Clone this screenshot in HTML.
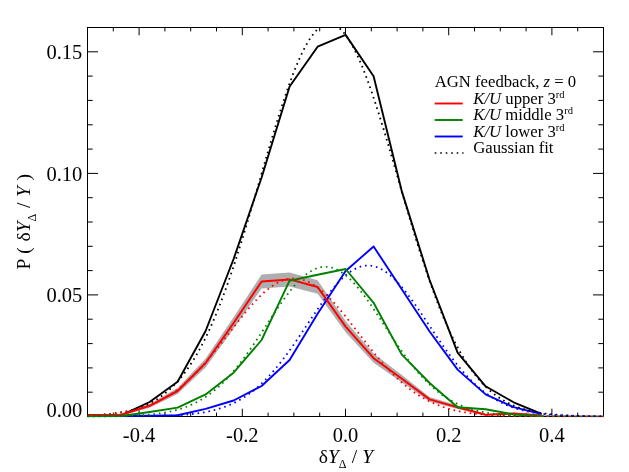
<!DOCTYPE html>
<html><head><meta charset="utf-8"><title>chart</title>
<style>html,body{margin:0;padding:0;background:#fff}body{width:629px;height:472px;overflow:hidden;font-family:"Liberation Serif",serif}svg{display:block;will-change:transform}</style>
</head><body>
<svg width="629" height="472" viewBox="0 0 629 472">
<rect width="629" height="472" fill="#fff"/>
<defs><clipPath id="c"><rect x="87.5" y="27.0" width="516.5" height="390.5"/></clipPath></defs>
<g stroke="#000" stroke-width="1" fill="none">
<rect x="87.5" y="27.5" width="516.0" height="389.0"/>
<path d="M113.3 416.5v-3.9M113.3 27.5v3.9"/>
<path d="M139.1 416.5v-7.8M139.1 27.5v7.8"/>
<path d="M164.9 416.5v-3.9M164.9 27.5v3.9"/>
<path d="M190.7 416.5v-3.9M190.7 27.5v3.9"/>
<path d="M216.5 416.5v-3.9M216.5 27.5v3.9"/>
<path d="M242.3 416.5v-7.8M242.3 27.5v7.8"/>
<path d="M268.1 416.5v-3.9M268.1 27.5v3.9"/>
<path d="M293.9 416.5v-3.9M293.9 27.5v3.9"/>
<path d="M319.7 416.5v-3.9M319.7 27.5v3.9"/>
<path d="M345.5 416.5v-7.8M345.5 27.5v7.8"/>
<path d="M371.3 416.5v-3.9M371.3 27.5v3.9"/>
<path d="M397.1 416.5v-3.9M397.1 27.5v3.9"/>
<path d="M422.9 416.5v-3.9M422.9 27.5v3.9"/>
<path d="M448.7 416.5v-7.8M448.7 27.5v7.8"/>
<path d="M474.5 416.5v-3.9M474.5 27.5v3.9"/>
<path d="M500.3 416.5v-3.9M500.3 27.5v3.9"/>
<path d="M526.1 416.5v-3.9M526.1 27.5v3.9"/>
<path d="M551.9 416.5v-7.8M551.9 27.5v7.8"/>
<path d="M577.7 416.5v-3.9M577.7 27.5v3.9"/>
<path d="M87.5 392.2h5.2M603.5 392.2h-5.2"/>
<path d="M87.5 367.9h5.2M603.5 367.9h-5.2"/>
<path d="M87.5 343.6h5.2M603.5 343.6h-5.2"/>
<path d="M87.5 319.2h5.2M603.5 319.2h-5.2"/>
<path d="M87.5 294.9h10.5M603.5 294.9h-10.5"/>
<path d="M87.5 270.6h5.2M603.5 270.6h-5.2"/>
<path d="M87.5 246.3h5.2M603.5 246.3h-5.2"/>
<path d="M87.5 222.0h5.2M603.5 222.0h-5.2"/>
<path d="M87.5 197.7h5.2M603.5 197.7h-5.2"/>
<path d="M87.5 173.4h10.5M603.5 173.4h-10.5"/>
<path d="M87.5 149.1h5.2M603.5 149.1h-5.2"/>
<path d="M87.5 124.8h5.2M603.5 124.8h-5.2"/>
<path d="M87.5 100.4h5.2M603.5 100.4h-5.2"/>
<path d="M87.5 76.1h5.2M603.5 76.1h-5.2"/>
<path d="M87.5 51.8h10.5M603.5 51.8h-10.5"/>
</g>
<g clip-path="url(#c)" fill="none" stroke-linejoin="round">
<polygon points="93.6,414.3 121.6,414.0 149.6,403.9 177.6,388.0 205.6,358.6 233.6,317.2 261.6,274.6 289.6,272.4 317.6,280.2 345.6,320.9 373.6,353.6 401.6,374.8 429.6,397.0 457.6,405.5 485.6,414.0 513.6,412.6 541.6,415.1 569.6,416.0 597.6,416.0 597.6,416.0 569.6,416.0 541.6,415.9 513.6,414.4 485.6,415.4 457.6,409.1 429.6,401.8 401.6,382.2 373.6,362.8 345.6,332.3 317.6,293.8 289.6,286.4 261.6,288.4 233.6,328.8 205.6,367.4 177.6,394.0 149.6,407.7 121.6,415.4 93.6,415.5" fill="#aeaeae" stroke="none"/>
<polyline points="87.5,416.0 93.6,416.0 121.6,415.2 149.6,402.0 177.6,381.7 205.6,331.0 233.6,259.0 261.6,177.5 289.6,86.5 317.6,46.7 345.6,34.9 373.6,76.3 401.6,190.6 429.6,280.0 457.6,352.6 485.6,386.3 513.6,402.3 541.6,413.9" stroke="#000" stroke-width="1.9"/>
<polyline points="121.6,416.0 149.6,415.6 177.6,415.3 205.6,408.9 233.6,400.5 261.6,386.0 289.6,360.0 317.6,313.8 345.6,271.0 373.6,246.5 401.6,289.0 429.6,331.5 457.6,369.6 485.6,394.4 513.6,407.2 541.6,414.1" stroke="#0000ff" stroke-width="1.9"/>
<polyline points="87.5,414.9 93.6,414.9 121.6,414.7 149.6,405.8 177.6,391.0 205.6,363.0 233.6,323.0 261.6,281.5 289.6,279.4 317.6,287.0 345.6,326.6 373.6,358.2 401.6,378.5 429.6,399.4 457.6,407.3 485.6,414.7 513.6,413.5 541.6,415.5" stroke="#ff0000" stroke-width="2"/>
<polyline points="87.5,416.2 93.6,416.2 121.6,416.0 149.6,412.0 177.6,407.6 205.6,394.4 233.6,372.7 261.6,340.0 289.6,280.7 317.6,274.7 345.6,269.0 373.6,302.8 401.6,354.4 429.6,383.0 457.6,407.3 485.6,409.3 513.6,414.5 541.6,416.0" stroke="#008000" stroke-width="1.9"/>
<polyline points="87.50,415.56 88.36,415.52 89.22,415.48 90.08,415.44 90.94,415.40 91.80,415.36 92.67,415.31 93.53,415.26 94.39,415.22 95.25,415.16 96.11,415.11 96.97,415.05 97.83,415.00 98.69,414.94 99.55,414.87 100.41,414.81 101.27,414.74 102.13,414.67 103.00,414.60 103.86,414.53 104.72,414.45 105.58,414.37 106.44,414.28 107.30,414.20 108.16,414.11 109.02,414.01 109.88,413.91 110.74,413.81 111.60,413.71 112.46,413.60 113.32,413.49 114.19,413.37 115.05,413.25 115.91,413.13 116.77,413.00 117.63,412.87 118.49,412.73 119.35,412.59 120.21,412.44 121.07,412.29 121.93,412.13 122.79,411.97 123.66,411.80 124.52,411.62 125.38,411.44 126.24,411.26 127.10,411.07 127.96,410.87 128.82,410.66 129.68,410.45 130.54,410.23 131.40,410.01 132.26,409.77 133.12,409.53 133.98,409.28 134.85,409.03 135.71,408.77 136.57,408.49 137.43,408.21 138.29,407.92 139.15,407.63 140.01,407.32 140.87,407.00 141.73,406.68 142.59,406.34 143.45,406.00 144.31,405.64 145.18,405.28 146.04,404.90 146.90,404.51 147.76,404.11 148.62,403.70 149.48,403.28 150.34,402.85 151.20,402.40 152.06,401.95 152.92,401.48 153.78,400.99 154.64,400.50 155.51,399.99 156.37,399.46 157.23,398.93 158.09,398.37 158.95,397.81 159.81,397.23 160.67,396.63 161.53,396.02 162.39,395.39 163.25,394.75 164.11,394.09 164.98,393.41 165.84,392.72 166.70,392.01 167.56,391.28 168.42,390.54 169.28,389.78 170.14,389.00 171.00,388.20 171.86,387.38 172.72,386.54 173.58,385.69 174.44,384.81 175.31,383.91 176.17,383.00 177.03,382.06 177.89,381.10 178.75,380.12 179.61,379.12 180.47,378.10 181.33,377.06 182.19,375.99 183.05,374.91 183.91,373.80 184.77,372.66 185.63,371.51 186.50,370.33 187.36,369.12 188.22,367.90 189.08,366.65 189.94,365.37 190.80,364.07 191.66,362.74 192.52,361.39 193.38,360.02 194.24,358.62 195.10,357.19 195.96,355.74 196.83,354.26 197.69,352.76 198.55,351.23 199.41,349.67 200.27,348.09 201.13,346.48 201.99,344.85 202.85,343.18 203.71,341.49 204.57,339.78 205.43,338.03 206.29,336.26 207.16,334.46 208.02,332.64 208.88,330.78 209.74,328.90 210.60,327.00 211.46,325.06 212.32,323.10 213.18,321.11 214.04,319.09 214.90,317.05 215.76,314.98 216.62,312.88 217.49,310.75 218.35,308.60 219.21,306.42 220.07,304.22 220.93,301.99 221.79,299.73 222.65,297.45 223.51,295.14 224.37,292.80 225.23,290.44 226.09,288.06 226.96,285.65 227.82,283.21 228.68,280.75 229.54,278.27 230.40,275.76 231.26,273.24 232.12,270.68 232.98,268.11 233.84,265.51 234.70,262.90 235.56,260.26 236.42,257.60 237.28,254.92 238.15,252.22 239.01,249.50 239.87,246.77 240.73,244.01 241.59,241.24 242.45,238.45 243.31,235.65 244.17,232.83 245.03,229.99 245.89,227.14 246.75,224.28 247.62,221.41 248.48,218.52 249.34,215.62 250.20,212.71 251.06,209.79 251.92,206.86 252.78,203.92 253.64,200.98 254.50,198.03 255.36,195.07 256.22,192.11 257.08,189.14 257.95,186.17 258.81,183.20 259.67,180.22 260.53,177.25 261.39,174.28 262.25,171.30 263.11,168.33 263.97,165.36 264.83,162.40 265.69,159.44 266.55,156.49 267.41,153.55 268.27,150.61 269.14,147.68 270.00,144.76 270.86,141.86 271.72,138.96 272.58,136.08 273.44,133.22 274.30,130.37 275.16,127.53 276.02,124.71 276.88,121.91 277.74,119.14 278.61,116.38 279.47,113.64 280.33,110.92 281.19,108.23 282.05,105.57 282.91,102.93 283.77,100.32 284.63,97.73 285.49,95.17 286.35,92.65 287.21,90.15 288.07,87.69 288.94,85.26 289.80,82.87 290.66,80.51 291.52,78.18 292.38,75.89 293.24,73.64 294.10,71.43 294.96,69.26 295.82,67.13 296.68,65.05 297.54,63.00 298.40,61.00 299.26,59.04 300.13,57.13 300.99,55.27 301.85,53.45 302.71,51.68 303.57,49.95 304.43,48.28 305.29,46.66 306.15,45.09 307.01,43.57 307.87,42.10 308.73,40.68 309.60,39.32 310.46,38.01 311.32,36.76 312.18,35.56 313.04,34.42 313.90,33.33 314.76,32.31 315.62,31.33 316.48,30.42 317.34,29.57 318.20,28.77 319.06,28.03 319.93,27.35 320.79,26.73 321.65,26.17 322.51,25.68 323.37,25.24 324.23,24.86 325.09,24.54 325.95,24.29 326.81,24.09 327.67,23.96 328.53,23.89 329.39,23.88 330.25,23.93 331.12,24.04 331.98,24.21 332.84,24.44 333.70,24.74 334.56,25.10 335.42,25.51 336.28,25.99 337.14,26.53 338.00,27.12 338.86,27.78 339.72,28.50 340.59,29.27 341.45,30.11 342.31,31.00 343.17,31.95 344.03,32.96 344.89,34.02 345.75,35.14 346.61,36.32 347.47,37.55 348.33,38.84 349.19,40.19 350.05,41.58 350.92,43.03 351.78,44.53 352.64,46.09 353.50,47.69 354.36,49.35 355.22,51.05 356.08,52.80 356.94,54.61 357.80,56.45 358.66,58.35 359.52,60.29 360.38,62.28 361.25,64.30 362.11,66.38 362.97,68.49 363.83,70.65 364.69,72.84 365.55,75.08 366.41,77.35 367.27,79.66 368.13,82.01 368.99,84.39 369.85,86.81 370.71,89.26 371.58,91.75 372.44,94.26 373.30,96.81 374.16,99.38 375.02,101.98 375.88,104.62 376.74,107.27 377.60,109.95 378.46,112.66 379.32,115.39 380.18,118.14 381.04,120.91 381.90,123.70 382.77,126.51 383.63,129.34 384.49,132.19 385.35,135.05 386.21,137.93 387.07,140.81 387.93,143.72 388.79,146.63 389.65,149.55 390.51,152.49 391.37,155.43 392.23,158.38 393.10,161.34 393.96,164.30 394.82,167.26 395.68,170.23 396.54,173.21 397.40,176.18 398.26,179.15 399.12,182.13 399.98,185.10 400.84,188.07 401.70,191.04 402.56,194.00 403.43,196.96 404.29,199.92 405.15,202.86 406.01,205.80 406.87,208.74 407.73,211.66 408.59,214.57 409.45,217.48 410.31,220.37 411.17,223.25 412.03,226.12 412.89,228.97 413.76,231.81 414.62,234.64 415.48,237.45 416.34,240.24 417.20,243.02 418.06,245.78 418.92,248.52 419.78,251.25 420.64,253.95 421.50,256.64 422.36,259.30 423.23,261.95 424.09,264.57 424.95,267.18 425.81,269.76 426.67,272.32 427.53,274.86 428.39,277.37 429.25,279.86 430.11,282.33 430.97,284.77 431.83,287.19 432.69,289.59 433.56,291.95 434.42,294.30 435.28,296.62 436.14,298.91 437.00,301.18 437.86,303.42 438.72,305.63 439.58,307.82 440.44,309.98 441.30,312.12 442.16,314.22 443.02,316.31 443.88,318.36 444.75,320.39 445.61,322.39 446.47,324.36 447.33,326.30 448.19,328.22 449.05,330.11 449.91,331.97 450.77,333.81 451.63,335.62 452.49,337.40 453.35,339.15 454.21,340.88 455.08,342.58 455.94,344.25 456.80,345.90 457.66,347.52 458.52,349.11 459.38,350.67 460.24,352.21 461.10,353.73 461.96,355.21 462.82,356.67 463.68,358.11 464.55,359.52 465.41,360.90 466.27,362.26 467.13,363.60 467.99,364.90 468.85,366.19 469.71,367.45 470.57,368.68 471.43,369.90 472.29,371.08 473.15,372.25 474.01,373.39 474.88,374.51 475.74,375.61 476.60,376.68 477.46,377.73 478.32,378.76 479.18,379.77 480.04,380.75 480.90,381.72 481.76,382.66 482.62,383.59 483.48,384.49 484.34,385.37 485.20,386.24 486.07,387.08 486.93,387.90 487.79,388.71 488.65,389.50 489.51,390.27 490.37,391.02 491.23,391.75 492.09,392.47 492.95,393.17 493.81,393.85 494.67,394.51 495.54,395.16 496.40,395.80 497.26,396.41 498.12,397.01 498.98,397.60 499.84,398.17 500.70,398.73 501.56,399.27 502.42,399.80 503.28,400.32 504.14,400.82 505.00,401.30 505.87,401.78 506.73,402.24 507.59,402.69 508.45,403.13 509.31,403.55 510.17,403.97 511.03,404.37 511.89,404.76 512.75,405.14 513.61,405.51 514.47,405.87 515.33,406.22 516.19,406.56 517.06,406.89 517.92,407.21 518.78,407.52 519.64,407.82 520.50,408.11 521.36,408.39 522.22,408.67 523.08,408.93 523.94,409.19 524.80,409.44 525.66,409.69 526.52,409.92 527.39,410.15 528.25,410.37 529.11,410.59 529.97,410.79 530.83,410.99 531.69,411.19 532.55,411.38 533.41,411.56 534.27,411.74 535.13,411.91 535.99,412.07 536.86,412.23 537.72,412.39 538.58,412.54 539.44,412.68 540.30,412.82 541.16,412.95 542.02,413.08 542.88,413.21 543.74,413.33 544.60,413.45 545.46,413.56 546.32,413.67 547.18,413.78 548.05,413.88 548.91,413.98 549.77,414.07 550.63,414.16 551.49,414.25 552.35,414.34 553.21,414.42 554.07,414.50 554.93,414.57 555.79,414.65 556.65,414.72 557.52,414.79 558.38,414.85 559.24,414.92 560.10,414.98 560.96,415.03 561.82,415.09 562.68,415.14 563.54,415.20 564.40,415.25 565.26,415.30 566.12,415.34 566.98,415.39 567.85,415.43 568.71,415.47 569.57,415.51 570.43,415.55 571.29,415.58 572.15,415.62 573.01,415.65 573.87,415.69 574.73,415.72 575.59,415.75 576.45,415.78 577.31,415.80 578.17,415.83 579.04,415.85 579.90,415.88 580.76,415.90 581.62,415.92 582.48,415.95 583.34,415.97 584.20,415.99 585.06,416.00 585.92,416.02 586.78,416.04 587.64,416.06 588.50,416.07 589.37,416.09 590.23,416.10 591.09,416.12 591.95,416.13 592.81,416.14 593.67,416.15 594.53,416.16 595.39,416.18 596.25,416.19 597.11,416.20 597.97,416.21 598.84,416.22 599.70,416.22 600.56,416.23 601.42,416.24 602.28,416.25 603.14,416.26 604.00,416.26" stroke="#000" stroke-dasharray="1.60 3.8974" stroke-width="1.8"/>
<polyline points="87.50,416.40 88.36,416.40 89.22,416.40 90.08,416.40 90.94,416.40 91.80,416.39 92.67,416.39 93.53,416.39 94.39,416.39 95.25,416.39 96.11,416.39 96.97,416.39 97.83,416.39 98.69,416.39 99.55,416.39 100.41,416.39 101.27,416.39 102.13,416.39 103.00,416.39 103.86,416.39 104.72,416.39 105.58,416.39 106.44,416.38 107.30,416.38 108.16,416.38 109.02,416.38 109.88,416.38 110.74,416.38 111.60,416.38 112.46,416.38 113.32,416.38 114.19,416.37 115.05,416.37 115.91,416.37 116.77,416.37 117.63,416.37 118.49,416.37 119.35,416.36 120.21,416.36 121.07,416.36 121.93,416.36 122.79,416.35 123.66,416.35 124.52,416.35 125.38,416.35 126.24,416.34 127.10,416.34 127.96,416.34 128.82,416.33 129.68,416.33 130.54,416.32 131.40,416.32 132.26,416.31 133.12,416.31 133.98,416.30 134.85,416.30 135.71,416.29 136.57,416.29 137.43,416.28 138.29,416.28 139.15,416.27 140.01,416.26 140.87,416.25 141.73,416.25 142.59,416.24 143.45,416.23 144.31,416.22 145.18,416.21 146.04,416.20 146.90,416.19 147.76,416.18 148.62,416.17 149.48,416.16 150.34,416.14 151.20,416.13 152.06,416.12 152.92,416.10 153.78,416.09 154.64,416.07 155.51,416.05 156.37,416.04 157.23,416.02 158.09,416.00 158.95,415.98 159.81,415.96 160.67,415.94 161.53,415.91 162.39,415.89 163.25,415.86 164.11,415.84 164.98,415.81 165.84,415.78 166.70,415.75 167.56,415.72 168.42,415.69 169.28,415.66 170.14,415.62 171.00,415.59 171.86,415.55 172.72,415.51 173.58,415.47 174.44,415.42 175.31,415.38 176.17,415.33 177.03,415.28 177.89,415.23 178.75,415.18 179.61,415.13 180.47,415.07 181.33,415.01 182.19,414.95 183.05,414.89 183.91,414.82 184.77,414.75 185.63,414.68 186.50,414.61 187.36,414.53 188.22,414.45 189.08,414.37 189.94,414.28 190.80,414.19 191.66,414.10 192.52,414.01 193.38,413.91 194.24,413.80 195.10,413.70 195.96,413.59 196.83,413.47 197.69,413.35 198.55,413.23 199.41,413.11 200.27,412.98 201.13,412.84 201.99,412.70 202.85,412.55 203.71,412.41 204.57,412.25 205.43,412.09 206.29,411.93 207.16,411.76 208.02,411.58 208.88,411.40 209.74,411.21 210.60,411.02 211.46,410.82 212.32,410.61 213.18,410.40 214.04,410.18 214.90,409.96 215.76,409.73 216.62,409.49 217.49,409.24 218.35,408.99 219.21,408.73 220.07,408.46 220.93,408.18 221.79,407.90 222.65,407.61 223.51,407.31 224.37,407.00 225.23,406.68 226.09,406.35 226.96,406.02 227.82,405.68 228.68,405.32 229.54,404.96 230.40,404.59 231.26,404.21 232.12,403.82 232.98,403.41 233.84,403.00 234.70,402.58 235.56,402.15 236.42,401.71 237.28,401.25 238.15,400.79 239.01,400.32 239.87,399.83 240.73,399.33 241.59,398.82 242.45,398.30 243.31,397.77 244.17,397.23 245.03,396.67 245.89,396.10 246.75,395.52 247.62,394.93 248.48,394.32 249.34,393.71 250.20,393.08 251.06,392.43 251.92,391.78 252.78,391.11 253.64,390.43 254.50,389.73 255.36,389.02 256.22,388.30 257.08,387.57 257.95,386.82 258.81,386.06 259.67,385.29 260.53,384.50 261.39,383.70 262.25,382.88 263.11,382.06 263.97,381.21 264.83,380.36 265.69,379.49 266.55,378.61 267.41,377.72 268.27,376.81 269.14,375.89 270.00,374.95 270.86,374.00 271.72,373.04 272.58,372.07 273.44,371.08 274.30,370.08 275.16,369.07 276.02,368.05 276.88,367.01 277.74,365.96 278.61,364.90 279.47,363.83 280.33,362.75 281.19,361.65 282.05,360.55 282.91,359.43 283.77,358.30 284.63,357.16 285.49,356.01 286.35,354.85 287.21,353.69 288.07,352.51 288.94,351.32 289.80,350.12 290.66,348.92 291.52,347.71 292.38,346.48 293.24,345.26 294.10,344.02 294.96,342.78 295.82,341.53 296.68,340.28 297.54,339.02 298.40,337.75 299.26,336.48 300.13,335.21 300.99,333.93 301.85,332.65 302.71,331.36 303.57,330.07 304.43,328.78 305.29,327.49 306.15,326.20 307.01,324.91 307.87,323.62 308.73,322.33 309.60,321.04 310.46,319.75 311.32,318.46 312.18,317.18 313.04,315.89 313.90,314.62 314.76,313.34 315.62,312.08 316.48,310.81 317.34,309.56 318.20,308.31 319.06,307.07 319.93,305.83 320.79,304.60 321.65,303.39 322.51,302.18 323.37,300.98 324.23,299.79 325.09,298.62 325.95,297.45 326.81,296.30 327.67,295.16 328.53,294.04 329.39,292.93 330.25,291.83 331.12,290.75 331.98,289.68 332.84,288.64 333.70,287.61 334.56,286.59 335.42,285.60 336.28,284.62 337.14,283.66 338.00,282.72 338.86,281.81 339.72,280.91 340.59,280.03 341.45,279.18 342.31,278.35 343.17,277.54 344.03,276.75 344.89,275.99 345.75,275.25 346.61,274.53 347.47,273.85 348.33,273.18 349.19,272.54 350.05,271.93 350.92,271.34 351.78,270.78 352.64,270.25 353.50,269.75 354.36,269.27 355.22,268.82 356.08,268.40 356.94,268.00 357.80,267.64 358.66,267.30 359.52,267.00 360.38,266.72 361.25,266.47 362.11,266.25 362.97,266.06 363.83,265.91 364.69,265.78 365.55,265.68 366.41,265.61 367.27,265.57 368.13,265.56 368.99,265.58 369.85,265.63 370.71,265.71 371.58,265.82 372.44,265.97 373.30,266.14 374.16,266.34 375.02,266.57 375.88,266.83 376.74,267.12 377.60,267.43 378.46,267.78 379.32,268.16 380.18,268.56 381.04,269.00 381.90,269.46 382.77,269.95 383.63,270.46 384.49,271.00 385.35,271.58 386.21,272.17 387.07,272.80 387.93,273.44 388.79,274.12 389.65,274.82 390.51,275.54 391.37,276.29 392.23,277.06 393.10,277.86 393.96,278.68 394.82,279.52 395.68,280.38 396.54,281.26 397.40,282.17 398.26,283.10 399.12,284.04 399.98,285.01 400.84,285.99 401.70,286.99 402.56,288.02 403.43,289.05 404.29,290.11 405.15,291.18 406.01,292.27 406.87,293.37 407.73,294.49 408.59,295.62 409.45,296.76 410.31,297.92 411.17,299.09 412.03,300.27 412.89,301.46 413.76,302.66 414.62,303.87 415.48,305.09 416.34,306.32 417.20,307.56 418.06,308.81 418.92,310.06 419.78,311.32 420.64,312.58 421.50,313.85 422.36,315.13 423.23,316.41 424.09,317.69 424.95,318.97 425.81,320.26 426.67,321.55 427.53,322.84 428.39,324.14 429.25,325.43 430.11,326.72 430.97,328.01 431.83,329.30 432.69,330.59 433.56,331.88 434.42,333.16 435.28,334.44 436.14,335.72 437.00,336.99 437.86,338.26 438.72,339.52 439.58,340.78 440.44,342.03 441.30,343.28 442.16,344.52 443.02,345.75 443.88,346.97 444.75,348.19 445.61,349.40 446.47,350.60 447.33,351.80 448.19,352.98 449.05,354.15 449.91,355.32 450.77,356.47 451.63,357.62 452.49,358.75 453.35,359.88 454.21,360.99 455.08,362.09 455.94,363.18 456.80,364.26 457.66,365.33 458.52,366.39 459.38,367.43 460.24,368.46 461.10,369.48 461.96,370.49 462.82,371.48 463.68,372.46 464.55,373.43 465.41,374.38 466.27,375.33 467.13,376.26 467.99,377.17 468.85,378.07 469.71,378.96 470.57,379.84 471.43,380.70 472.29,381.55 473.15,382.39 474.01,383.21 474.88,384.02 475.74,384.82 476.60,385.60 477.46,386.37 478.32,387.12 479.18,387.86 480.04,388.59 480.90,389.31 481.76,390.01 482.62,390.70 483.48,391.38 484.34,392.04 485.20,392.69 486.07,393.33 486.93,393.95 487.79,394.57 488.65,395.17 489.51,395.75 490.37,396.33 491.23,396.89 492.09,397.44 492.95,397.98 493.81,398.51 494.67,399.03 495.54,399.53 496.40,400.02 497.26,400.51 498.12,400.98 498.98,401.44 499.84,401.89 500.70,402.32 501.56,402.75 502.42,403.17 503.28,403.58 504.14,403.97 505.00,404.36 505.87,404.74 506.73,405.11 507.59,405.46 508.45,405.81 509.31,406.15 510.17,406.49 511.03,406.81 511.89,407.12 512.75,407.43 513.61,407.72 514.47,408.01 515.33,408.29 516.19,408.57 517.06,408.83 517.92,409.09 518.78,409.34 519.64,409.58 520.50,409.82 521.36,410.05 522.22,410.27 523.08,410.49 523.94,410.70 524.80,410.90 525.66,411.10 526.52,411.29 527.39,411.47 528.25,411.65 529.11,411.82 529.97,411.99 530.83,412.16 531.69,412.31 532.55,412.47 533.41,412.61 534.27,412.76 535.13,412.89 535.99,413.03 536.86,413.16 537.72,413.28 538.58,413.40 539.44,413.52 540.30,413.63 541.16,413.74 542.02,413.85 542.88,413.95 543.74,414.04 544.60,414.14 545.46,414.23 546.32,414.32 547.18,414.40 548.05,414.48 548.91,414.56 549.77,414.64 550.63,414.71 551.49,414.78 552.35,414.85 553.21,414.91 554.07,414.98 554.93,415.04 555.79,415.09 556.65,415.15 557.52,415.20 558.38,415.25 559.24,415.30 560.10,415.35 560.96,415.40 561.82,415.44 562.68,415.48 563.54,415.52 564.40,415.56 565.26,415.60 566.12,415.64 566.98,415.67 567.85,415.70 568.71,415.74 569.57,415.77 570.43,415.79 571.29,415.82 572.15,415.85 573.01,415.87 573.87,415.90 574.73,415.92 575.59,415.94 576.45,415.97 577.31,415.99 578.17,416.01 579.04,416.03 579.90,416.04 580.76,416.06 581.62,416.08 582.48,416.09 583.34,416.11 584.20,416.12 585.06,416.14 585.92,416.15 586.78,416.16 587.64,416.17 588.50,416.18 589.37,416.19 590.23,416.20 591.09,416.21 591.95,416.22 592.81,416.23 593.67,416.24 594.53,416.25 595.39,416.26 596.25,416.26 597.11,416.27 597.97,416.28 598.84,416.28 599.70,416.29 600.56,416.30 601.42,416.30 602.28,416.31 603.14,416.31 604.00,416.32" stroke="#0000ff" stroke-dasharray="1.60 3.9065" stroke-width="1.8"/>
<polyline points="87.50,415.59 88.36,415.55 89.22,415.51 90.08,415.47 90.94,415.43 91.80,415.39 92.67,415.35 93.53,415.31 94.39,415.26 95.25,415.21 96.11,415.16 96.97,415.11 97.83,415.06 98.69,415.00 99.55,414.94 100.41,414.88 101.27,414.82 102.13,414.76 103.00,414.69 103.86,414.62 104.72,414.55 105.58,414.47 106.44,414.40 107.30,414.32 108.16,414.24 109.02,414.15 109.88,414.06 110.74,413.97 111.60,413.88 112.46,413.78 113.32,413.68 114.19,413.58 115.05,413.47 115.91,413.36 116.77,413.25 117.63,413.13 118.49,413.01 119.35,412.88 120.21,412.76 121.07,412.62 121.93,412.48 122.79,412.34 123.66,412.20 124.52,412.05 125.38,411.89 126.24,411.73 127.10,411.57 127.96,411.40 128.82,411.22 129.68,411.04 130.54,410.86 131.40,410.66 132.26,410.47 133.12,410.27 133.98,410.06 134.85,409.85 135.71,409.63 136.57,409.40 137.43,409.17 138.29,408.93 139.15,408.69 140.01,408.44 140.87,408.18 141.73,407.92 142.59,407.64 143.45,407.37 144.31,407.08 145.18,406.79 146.04,406.49 146.90,406.18 147.76,405.86 148.62,405.54 149.48,405.21 150.34,404.87 151.20,404.52 152.06,404.17 152.92,403.80 153.78,403.43 154.64,403.05 155.51,402.66 156.37,402.26 157.23,401.85 158.09,401.43 158.95,401.01 159.81,400.57 160.67,400.13 161.53,399.67 162.39,399.21 163.25,398.74 164.11,398.25 164.98,397.76 165.84,397.25 166.70,396.74 167.56,396.22 168.42,395.68 169.28,395.14 170.14,394.58 171.00,394.02 171.86,393.44 172.72,392.86 173.58,392.26 174.44,391.65 175.31,391.03 176.17,390.40 177.03,389.76 177.89,389.11 178.75,388.45 179.61,387.78 180.47,387.09 181.33,386.40 182.19,385.69 183.05,384.98 183.91,384.25 184.77,383.51 185.63,382.76 186.50,382.00 187.36,381.23 188.22,380.44 189.08,379.65 189.94,378.85 190.80,378.03 191.66,377.20 192.52,376.37 193.38,375.52 194.24,374.66 195.10,373.80 195.96,372.92 196.83,372.03 197.69,371.13 198.55,370.22 199.41,369.31 200.27,368.38 201.13,367.44 201.99,366.49 202.85,365.54 203.71,364.57 204.57,363.60 205.43,362.62 206.29,361.63 207.16,360.63 208.02,359.62 208.88,358.60 209.74,357.58 210.60,356.55 211.46,355.51 212.32,354.47 213.18,353.42 214.04,352.36 214.90,351.30 215.76,350.23 216.62,349.15 217.49,348.07 218.35,346.99 219.21,345.90 220.07,344.80 220.93,343.71 221.79,342.61 222.65,341.50 223.51,340.39 224.37,339.28 225.23,338.17 226.09,337.05 226.96,335.94 227.82,334.82 228.68,333.70 229.54,332.58 230.40,331.47 231.26,330.35 232.12,329.23 232.98,328.12 233.84,327.00 234.70,325.89 235.56,324.78 236.42,323.67 237.28,322.57 238.15,321.47 239.01,320.38 239.87,319.29 240.73,318.20 241.59,317.12 242.45,316.05 243.31,314.98 244.17,313.92 245.03,312.87 245.89,311.82 246.75,310.79 247.62,309.76 248.48,308.74 249.34,307.73 250.20,306.74 251.06,305.75 251.92,304.77 252.78,303.81 253.64,302.85 254.50,301.91 255.36,300.98 256.22,300.07 257.08,299.17 257.95,298.28 258.81,297.41 259.67,296.55 260.53,295.71 261.39,294.88 262.25,294.07 263.11,293.28 263.97,292.50 264.83,291.74 265.69,291.00 266.55,290.28 267.41,289.57 268.27,288.89 269.14,288.22 270.00,287.57 270.86,286.94 271.72,286.34 272.58,285.75 273.44,285.18 274.30,284.64 275.16,284.12 276.02,283.61 276.88,283.13 277.74,282.68 278.61,282.24 279.47,281.83 280.33,281.44 281.19,281.07 282.05,280.73 282.91,280.41 283.77,280.11 284.63,279.84 285.49,279.59 286.35,279.36 287.21,279.16 288.07,278.98 288.94,278.83 289.80,278.70 290.66,278.60 291.52,278.52 292.38,278.47 293.24,278.44 294.10,278.43 294.96,278.45 295.82,278.50 296.68,278.57 297.54,278.66 298.40,278.78 299.26,278.92 300.13,279.09 300.99,279.28 301.85,279.49 302.71,279.73 303.57,280.00 304.43,280.28 305.29,280.60 306.15,280.93 307.01,281.29 307.87,281.67 308.73,282.07 309.60,282.50 310.46,282.95 311.32,283.42 312.18,283.91 313.04,284.43 313.90,284.96 314.76,285.52 315.62,286.10 316.48,286.70 317.34,287.32 318.20,287.96 319.06,288.62 319.93,289.29 320.79,289.99 321.65,290.71 322.51,291.44 323.37,292.19 324.23,292.96 325.09,293.75 325.95,294.55 326.81,295.37 327.67,296.21 328.53,297.06 329.39,297.93 330.25,298.81 331.12,299.71 331.98,300.62 332.84,301.54 333.70,302.47 334.56,303.42 335.42,304.38 336.28,305.36 337.14,306.34 338.00,307.33 338.86,308.34 339.72,309.35 340.59,310.38 341.45,311.41 342.31,312.45 343.17,313.50 344.03,314.56 344.89,315.62 345.75,316.69 346.61,317.77 347.47,318.85 348.33,319.94 349.19,321.03 350.05,322.13 350.92,323.23 351.78,324.34 352.64,325.45 353.50,326.56 354.36,327.67 355.22,328.78 356.08,329.90 356.94,331.02 357.80,332.14 358.66,333.26 359.52,334.37 360.38,335.49 361.25,336.61 362.11,337.72 362.97,338.84 363.83,339.95 364.69,341.06 365.55,342.16 366.41,343.27 367.27,344.37 368.13,345.46 368.99,346.55 369.85,347.64 370.71,348.72 371.58,349.80 372.44,350.87 373.30,351.94 374.16,353.00 375.02,354.05 375.88,355.10 376.74,356.14 377.60,357.17 378.46,358.20 379.32,359.21 380.18,360.22 381.04,361.23 381.90,362.22 382.77,363.21 383.63,364.18 384.49,365.15 385.35,366.11 386.21,367.06 387.07,368.00 387.93,368.94 388.79,369.86 389.65,370.77 390.51,371.67 391.37,372.56 392.23,373.45 393.10,374.32 393.96,375.18 394.82,376.03 395.68,376.87 396.54,377.70 397.40,378.52 398.26,379.33 399.12,380.13 399.98,380.91 400.84,381.69 401.70,382.46 402.56,383.21 403.43,383.95 404.29,384.69 405.15,385.41 406.01,386.12 406.87,386.82 407.73,387.50 408.59,388.18 409.45,388.85 410.31,389.50 411.17,390.15 412.03,390.78 412.89,391.41 413.76,392.02 414.62,392.62 415.48,393.21 416.34,393.79 417.20,394.36 418.06,394.92 418.92,395.47 419.78,396.00 420.64,396.53 421.50,397.05 422.36,397.56 423.23,398.06 424.09,398.54 424.95,399.02 425.81,399.49 426.67,399.95 427.53,400.40 428.39,400.83 429.25,401.26 430.11,401.69 430.97,402.10 431.83,402.50 432.69,402.89 433.56,403.28 434.42,403.65 435.28,404.02 436.14,404.38 437.00,404.73 437.86,405.07 438.72,405.41 439.58,405.74 440.44,406.05 441.30,406.36 442.16,406.67 443.02,406.96 443.88,407.25 444.75,407.53 445.61,407.81 446.47,408.07 447.33,408.33 448.19,408.59 449.05,408.84 449.91,409.08 450.77,409.31 451.63,409.54 452.49,409.76 453.35,409.97 454.21,410.18 455.08,410.39 455.94,410.59 456.80,410.78 457.66,410.97 458.52,411.15 459.38,411.33 460.24,411.50 461.10,411.66 461.96,411.83 462.82,411.98 463.68,412.14 464.55,412.28 465.41,412.43 466.27,412.57 467.13,412.70 467.99,412.83 468.85,412.96 469.71,413.08 470.57,413.20 471.43,413.32 472.29,413.43 473.15,413.54 474.01,413.64 474.88,413.74 475.74,413.84 476.60,413.94 477.46,414.03 478.32,414.12 479.18,414.20 480.04,414.29 480.90,414.37 481.76,414.44 482.62,414.52 483.48,414.59 484.34,414.66 485.20,414.73 486.07,414.79 486.93,414.86 487.79,414.92 488.65,414.98 489.51,415.03 490.37,415.09 491.23,415.14 492.09,415.19 492.95,415.24 493.81,415.29 494.67,415.33 495.54,415.38 496.40,415.42 497.26,415.46 498.12,415.50 498.98,415.53 499.84,415.57 500.70,415.61 501.56,415.64 502.42,415.67 503.28,415.70 504.14,415.73 505.00,415.76 505.87,415.79 506.73,415.81 507.59,415.84 508.45,415.86 509.31,415.89 510.17,415.91 511.03,415.93 511.89,415.95 512.75,415.97 513.61,415.99 514.47,416.01 515.33,416.03 516.19,416.04 517.06,416.06 517.92,416.08 518.78,416.09 519.64,416.10 520.50,416.12 521.36,416.13 522.22,416.14 523.08,416.16 523.94,416.17 524.80,416.18 525.66,416.19 526.52,416.20 527.39,416.21 528.25,416.22 529.11,416.23 529.97,416.23 530.83,416.24 531.69,416.25 532.55,416.26 533.41,416.26 534.27,416.27 535.13,416.28 535.99,416.28 536.86,416.29 537.72,416.29 538.58,416.30 539.44,416.30 540.30,416.31 541.16,416.31 542.02,416.32 542.88,416.32 543.74,416.33 544.60,416.33 545.46,416.33 546.32,416.34 547.18,416.34 548.05,416.34 548.91,416.35 549.77,416.35 550.63,416.35 551.49,416.35 552.35,416.36 553.21,416.36 554.07,416.36 554.93,416.36 555.79,416.36 556.65,416.37 557.52,416.37 558.38,416.37 559.24,416.37 560.10,416.37 560.96,416.37 561.82,416.38 562.68,416.38 563.54,416.38 564.40,416.38 565.26,416.38 566.12,416.38 566.98,416.38 567.85,416.38 568.71,416.38 569.57,416.39 570.43,416.39 571.29,416.39 572.15,416.39 573.01,416.39 573.87,416.39 574.73,416.39 575.59,416.39 576.45,416.39 577.31,416.39 578.17,416.39 579.04,416.39 579.90,416.39 580.76,416.39 581.62,416.39 582.48,416.39 583.34,416.39 584.20,416.39 585.06,416.39 585.92,416.40 586.78,416.40 587.64,416.40 588.50,416.40 589.37,416.40 590.23,416.40 591.09,416.40 591.95,416.40 592.81,416.40 593.67,416.40 594.53,416.40 595.39,416.40 596.25,416.40 597.11,416.40 597.97,416.40 598.84,416.40 599.70,416.40 600.56,416.40 601.42,416.40 602.28,416.40 603.14,416.40 604.00,416.40" stroke="#ff0000" stroke-dasharray="1.60 3.8850" stroke-width="1.8"/>
<polyline points="87.50,416.35 88.36,416.35 89.22,416.35 90.08,416.34 90.94,416.34 91.80,416.34 92.67,416.33 93.53,416.33 94.39,416.32 95.25,416.32 96.11,416.32 96.97,416.31 97.83,416.30 98.69,416.30 99.55,416.29 100.41,416.29 101.27,416.28 102.13,416.27 103.00,416.27 103.86,416.26 104.72,416.25 105.58,416.24 106.44,416.24 107.30,416.23 108.16,416.22 109.02,416.21 109.88,416.20 110.74,416.19 111.60,416.17 112.46,416.16 113.32,416.15 114.19,416.14 115.05,416.12 115.91,416.11 116.77,416.09 117.63,416.08 118.49,416.06 119.35,416.04 120.21,416.02 121.07,416.00 121.93,415.98 122.79,415.96 123.66,415.94 124.52,415.92 125.38,415.89 126.24,415.87 127.10,415.84 127.96,415.81 128.82,415.78 129.68,415.75 130.54,415.72 131.40,415.69 132.26,415.65 133.12,415.62 133.98,415.58 134.85,415.54 135.71,415.50 136.57,415.46 137.43,415.41 138.29,415.37 139.15,415.32 140.01,415.27 140.87,415.22 141.73,415.16 142.59,415.11 143.45,415.05 144.31,414.98 145.18,414.92 146.04,414.85 146.90,414.78 147.76,414.71 148.62,414.64 149.48,414.56 150.34,414.48 151.20,414.40 152.06,414.31 152.92,414.22 153.78,414.12 154.64,414.03 155.51,413.93 156.37,413.82 157.23,413.71 158.09,413.60 158.95,413.48 159.81,413.36 160.67,413.24 161.53,413.11 162.39,412.97 163.25,412.83 164.11,412.69 164.98,412.54 165.84,412.39 166.70,412.23 167.56,412.06 168.42,411.89 169.28,411.72 170.14,411.53 171.00,411.35 171.86,411.15 172.72,410.95 173.58,410.74 174.44,410.53 175.31,410.31 176.17,410.08 177.03,409.85 177.89,409.61 178.75,409.36 179.61,409.10 180.47,408.84 181.33,408.57 182.19,408.29 183.05,408.00 183.91,407.70 184.77,407.39 185.63,407.08 186.50,406.76 187.36,406.42 188.22,406.08 189.08,405.73 189.94,405.37 190.80,405.00 191.66,404.62 192.52,404.23 193.38,403.83 194.24,403.42 195.10,402.99 195.96,402.56 196.83,402.12 197.69,401.66 198.55,401.20 199.41,400.72 200.27,400.23 201.13,399.73 201.99,399.21 202.85,398.69 203.71,398.15 204.57,397.60 205.43,397.04 206.29,396.47 207.16,395.88 208.02,395.28 208.88,394.66 209.74,394.04 210.60,393.40 211.46,392.75 212.32,392.08 213.18,391.40 214.04,390.71 214.90,390.00 215.76,389.28 216.62,388.54 217.49,387.80 218.35,387.03 219.21,386.26 220.07,385.47 220.93,384.66 221.79,383.84 222.65,383.01 223.51,382.16 224.37,381.30 225.23,380.43 226.09,379.54 226.96,378.64 227.82,377.72 228.68,376.79 229.54,375.85 230.40,374.89 231.26,373.92 232.12,372.93 232.98,371.93 233.84,370.92 234.70,369.89 235.56,368.85 236.42,367.80 237.28,366.74 238.15,365.66 239.01,364.57 239.87,363.47 240.73,362.36 241.59,361.23 242.45,360.09 243.31,358.94 244.17,357.78 245.03,356.61 245.89,355.43 246.75,354.24 247.62,353.04 248.48,351.83 249.34,350.61 250.20,349.38 251.06,348.14 251.92,346.90 252.78,345.65 253.64,344.38 254.50,343.12 255.36,341.84 256.22,340.56 257.08,339.28 257.95,337.98 258.81,336.69 259.67,335.39 260.53,334.08 261.39,332.77 262.25,331.46 263.11,330.15 263.97,328.83 264.83,327.52 265.69,326.20 266.55,324.88 267.41,323.57 268.27,322.25 269.14,320.93 270.00,319.62 270.86,318.31 271.72,317.00 272.58,315.70 273.44,314.40 274.30,313.11 275.16,311.82 276.02,310.54 276.88,309.26 277.74,308.00 278.61,306.74 279.47,305.49 280.33,304.25 281.19,303.01 282.05,301.79 282.91,300.58 283.77,299.39 284.63,298.20 285.49,297.03 286.35,295.87 287.21,294.73 288.07,293.60 288.94,292.49 289.80,291.39 290.66,290.31 291.52,289.25 292.38,288.21 293.24,287.18 294.10,286.17 294.96,285.19 295.82,284.22 296.68,283.28 297.54,282.35 298.40,281.45 299.26,280.57 300.13,279.72 300.99,278.88 301.85,278.08 302.71,277.29 303.57,276.53 304.43,275.80 305.29,275.09 306.15,274.41 307.01,273.76 307.87,273.13 308.73,272.53 309.60,271.96 310.46,271.42 311.32,270.91 312.18,270.42 313.04,269.96 313.90,269.54 314.76,269.14 315.62,268.77 316.48,268.44 317.34,268.13 318.20,267.86 319.06,267.61 319.93,267.40 320.79,267.22 321.65,267.06 322.51,266.95 323.37,266.86 324.23,266.80 325.09,266.78 325.95,266.78 326.81,266.82 327.67,266.89 328.53,266.99 329.39,267.12 330.25,267.29 331.12,267.48 331.98,267.71 332.84,267.96 333.70,268.25 334.56,268.57 335.42,268.92 336.28,269.30 337.14,269.70 338.00,270.14 338.86,270.61 339.72,271.11 340.59,271.63 341.45,272.19 342.31,272.77 343.17,273.38 344.03,274.02 344.89,274.68 345.75,275.37 346.61,276.09 347.47,276.83 348.33,277.60 349.19,278.40 350.05,279.21 350.92,280.06 351.78,280.92 352.64,281.81 353.50,282.72 354.36,283.65 355.22,284.61 356.08,285.58 356.94,286.57 357.80,287.59 358.66,288.62 359.52,289.67 360.38,290.74 361.25,291.83 362.11,292.93 362.97,294.05 363.83,295.18 364.69,296.33 365.55,297.50 366.41,298.67 367.27,299.86 368.13,301.07 368.99,302.28 369.85,303.51 370.71,304.74 371.58,305.99 372.44,307.24 373.30,308.50 374.16,309.77 375.02,311.05 375.88,312.34 376.74,313.63 377.60,314.92 378.46,316.22 379.32,317.53 380.18,318.84 381.04,320.15 381.90,321.46 382.77,322.78 383.63,324.09 384.49,325.41 385.35,326.73 386.21,328.04 387.07,329.36 387.93,330.67 388.79,331.99 389.65,333.30 390.51,334.60 391.37,335.91 392.23,337.21 393.10,338.50 393.96,339.79 394.82,341.07 395.68,342.35 396.54,343.62 397.40,344.89 398.26,346.15 399.12,347.40 399.98,348.64 400.84,349.87 401.70,351.10 402.56,352.32 403.43,353.52 404.29,354.72 405.15,355.91 406.01,357.08 406.87,358.25 407.73,359.41 408.59,360.55 409.45,361.68 410.31,362.80 411.17,363.91 412.03,365.01 412.89,366.09 413.76,367.17 414.62,368.22 415.48,369.27 416.34,370.30 417.20,371.32 418.06,372.33 418.92,373.33 419.78,374.31 420.64,375.27 421.50,376.22 422.36,377.16 423.23,378.09 424.09,379.00 424.95,379.90 425.81,380.78 426.67,381.65 427.53,382.50 428.39,383.35 429.25,384.17 430.11,384.99 430.97,385.78 431.83,386.57 432.69,387.34 433.56,388.10 434.42,388.84 435.28,389.57 436.14,390.28 437.00,390.99 437.86,391.67 438.72,392.35 439.58,393.01 440.44,393.66 441.30,394.29 442.16,394.91 443.02,395.52 443.88,396.11 444.75,396.70 445.61,397.27 446.47,397.82 447.33,398.37 448.19,398.90 449.05,399.42 449.91,399.93 450.77,400.43 451.63,400.91 452.49,401.38 453.35,401.85 454.21,402.30 455.08,402.74 455.94,403.16 456.80,403.58 457.66,403.99 458.52,404.39 459.38,404.77 460.24,405.15 461.10,405.52 461.96,405.87 462.82,406.22 463.68,406.56 464.55,406.89 465.41,407.21 466.27,407.52 467.13,407.82 467.99,408.11 468.85,408.40 469.71,408.68 470.57,408.95 471.43,409.21 472.29,409.46 473.15,409.71 474.01,409.94 474.88,410.18 475.74,410.40 476.60,410.62 477.46,410.83 478.32,411.03 479.18,411.23 480.04,411.42 480.90,411.61 481.76,411.79 482.62,411.96 483.48,412.13 484.34,412.29 485.20,412.45 486.07,412.60 486.93,412.75 487.79,412.89 488.65,413.03 489.51,413.16 490.37,413.29 491.23,413.41 492.09,413.53 492.95,413.65 493.81,413.76 494.67,413.86 495.54,413.97 496.40,414.07 497.26,414.16 498.12,414.26 498.98,414.34 499.84,414.43 500.70,414.51 501.56,414.59 502.42,414.67 503.28,414.74 504.14,414.81 505.00,414.88 505.87,414.95 506.73,415.01 507.59,415.07 508.45,415.13 509.31,415.18 510.17,415.24 511.03,415.29 511.89,415.34 512.75,415.39 513.61,415.43 514.47,415.48 515.33,415.52 516.19,415.56 517.06,415.60 517.92,415.63 518.78,415.67 519.64,415.70 520.50,415.73 521.36,415.77 522.22,415.80 523.08,415.82 523.94,415.85 524.80,415.88 525.66,415.90 526.52,415.93 527.39,415.95 528.25,415.97 529.11,415.99 529.97,416.01 530.83,416.03 531.69,416.05 532.55,416.07 533.41,416.08 534.27,416.10 535.13,416.11 535.99,416.13 536.86,416.14 537.72,416.15 538.58,416.17 539.44,416.18 540.30,416.19 541.16,416.20 542.02,416.21 542.88,416.22 543.74,416.23 544.60,416.24 545.46,416.25 546.32,416.26 547.18,416.26 548.05,416.27 548.91,416.28 549.77,416.28 550.63,416.29 551.49,416.30 552.35,416.30 553.21,416.31 554.07,416.31 554.93,416.32 555.79,416.32 556.65,416.33 557.52,416.33 558.38,416.33 559.24,416.34 560.10,416.34 560.96,416.34 561.82,416.35 562.68,416.35 563.54,416.35 564.40,416.36 565.26,416.36 566.12,416.36 566.98,416.36 567.85,416.37 568.71,416.37 569.57,416.37 570.43,416.37 571.29,416.37 572.15,416.37 573.01,416.38 573.87,416.38 574.73,416.38 575.59,416.38 576.45,416.38 577.31,416.38 578.17,416.38 579.04,416.38 579.90,416.39 580.76,416.39 581.62,416.39 582.48,416.39 583.34,416.39 584.20,416.39 585.06,416.39 585.92,416.39 586.78,416.39 587.64,416.39 588.50,416.39 589.37,416.39 590.23,416.39 591.09,416.39 591.95,416.39 592.81,416.39 593.67,416.39 594.53,416.39 595.39,416.40 596.25,416.40 597.11,416.40 597.97,416.40 598.84,416.40 599.70,416.40 600.56,416.40 601.42,416.40 602.28,416.40 603.14,416.40 604.00,416.40" stroke="#008000" stroke-dasharray="1.60 3.9000" stroke-width="1.8"/>
</g>
<g font-family="Liberation Serif, serif" fill="#000">
<g font-size="20.5px" text-anchor="middle">
<text x="139.1" y="441.7">-0.4</text>
<text x="242.3" y="441.7">-0.2</text>
<text x="345.5" y="441.7">0.0</text>
<text x="448.7" y="441.7">0.2</text>
<text x="551.9" y="441.7">0.4</text>
</g>
<g font-size="20.5px" text-anchor="end">
<text x="82.3" y="58.9">0.15</text>
<text x="82.3" y="180.5">0.10</text>
<text x="82.3" y="302.0">0.05</text>
<text x="82.3" y="416.8">0.00</text>
</g>
<text x="346" y="462.9" font-size="19.5px" word-spacing="0.3px" text-anchor="middle">δ<tspan font-style="italic">Y</tspan><tspan font-size="12px" dy="5.3">Δ</tspan><tspan dy="-5.3"> / </tspan><tspan font-style="italic">Y</tspan></text>
<text transform="translate(30.3,221.7) rotate(-90)" font-size="19.5px" word-spacing="0.8px" text-anchor="middle">P ( δ<tspan font-style="italic">Y</tspan><tspan font-size="12px" dy="5.3">Δ</tspan><tspan dy="-5.3"> / </tspan><tspan font-style="italic">Y</tspan> )</text>
<g font-size="16.7px">
<text x="434.7" y="87.2">AGN feedback, <tspan font-style="italic">z</tspan> = 0</text>
<text x="473.3" y="103.8"><tspan font-style="italic">K/U</tspan> upper 3<tspan font-size="10.5px" dy="-6.2">rd</tspan></text>
<text x="473.3" y="120.3"><tspan font-style="italic">K/U</tspan> middle 3<tspan font-size="10.5px" dy="-6.2">rd</tspan></text>
<text x="473.3" y="136.8"><tspan font-style="italic">K/U</tspan> lower 3<tspan font-size="10.5px" dy="-6.2">rd</tspan></text>
<text x="473.3" y="153.3">Gaussian fit</text>
</g>
</g>
<path d="M434.7 103.5H462.7" stroke="#ff0000" stroke-width="1.9"/>
<path d="M434.7 120.0H462.7" stroke="#008000" stroke-width="1.9"/>
<path d="M434.7 136.5H462.7" stroke="#0000ff" stroke-width="1.9"/>
<path d="M434.7 153.0H463.5" stroke="#000" stroke-dasharray="1.6 3.9" stroke-width="1.7"/>
</svg>
</body></html>
